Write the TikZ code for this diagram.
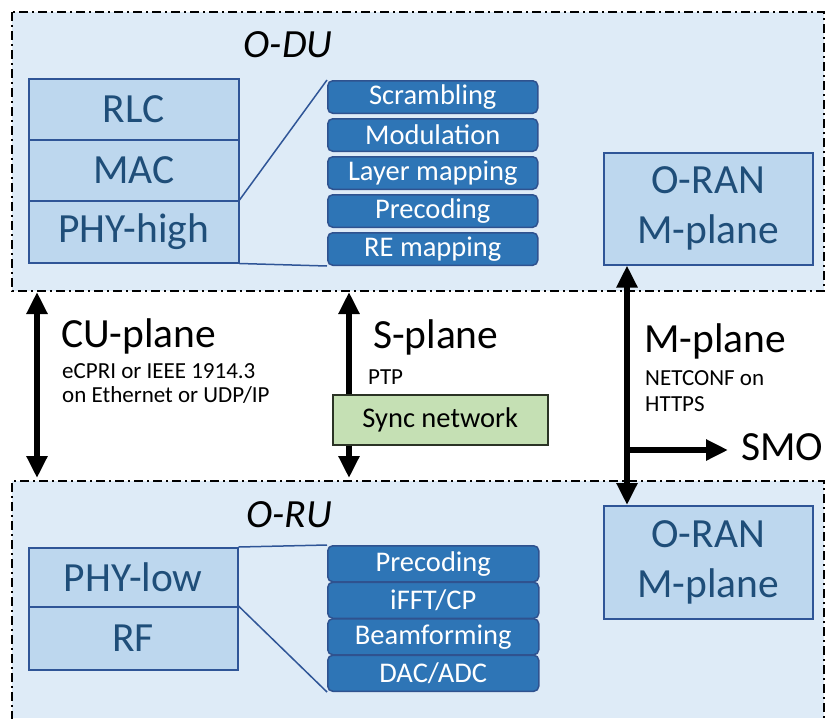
\documentclass[tikz,border=0pt]{standalone}
\usepackage{fontspec}
\setmainfont{Carlito}
\usetikzlibrary{arrows.meta}

\definecolor{groupfill}{HTML}{DEEBF7}
\definecolor{layerfill}{HTML}{BDD7EE}
\definecolor{layerline}{HTML}{2F5597}
\definecolor{layertext}{HTML}{1F4E79}
\definecolor{funcfill}{HTML}{2E75B6}
\definecolor{funcline}{HTML}{2F528F}
\definecolor{syncfill}{HTML}{C5E0B4}
\definecolor{syncline}{HTML}{2B3325}

\begin{document}
\begin{tikzpicture}[x=1pt,y=-1pt,
  >={Triangle[length=22pt,width=20pt]},
  groupborder/.style={draw=black, line width=1.8pt,
    dash pattern=on 9pt off 4pt on 2pt off 4pt},
  layer/.style={draw=layerline, fill=layerfill, line width=1.5pt,
    text=layertext, font=\fontsize{41.5}{50}\selectfont, inner sep=0pt,
    anchor=north west, minimum width=210pt, align=center},
  func/.style={draw=funcline, fill=funcfill, line width=1.5pt,
    rounded corners=5pt, text=white, font=\fontsize{28.5}{33}\selectfont,
    inner sep=0pt, anchor=north west, minimum width=210pt},
  zoomline/.style={draw=layerline, line width=1.5pt},
  grouplabel/.style={font=\itshape\fontsize{40}{48}\selectfont, anchor=base, inner sep=0pt},
  plane/.style={font=\fontsize{41.5}{50}\selectfont, anchor=base west, inner sep=0pt},
  planedetail/.style={anchor=north west, inner sep=0pt, align=left},
  bigarrow/.style={line width=5.5pt},
]
\useasboundingbox (0,0) rectangle (826,718);

% O-DU group
\path[fill=groupfill] (12,12) rectangle (824,291);
\draw[groupborder] (12,12) rectangle (824,291);
\node[grouplabel] (odu) at (288,57) {O-DU};

% O-RU group, open towards the bottom edge
\path[fill=groupfill] (12,481) rectangle (824,718);
\draw[groupborder] (12,720) -- (12,481) -- (824,481) -- (824,720);
\node[grouplabel] (oru) at (289,527) {O-RU};

% O-DU protocol stack
\node[layer, minimum height=61pt] (rlc) at (28,78) {RLC};
\node[layer, minimum height=61pt] (mac) at (28,139) {MAC};
\node[layer, minimum height=62pt] (phyhigh) at (28,200) {PHY-high};

% PHY-high functions
\node[func, minimum height=32.5pt] (scr) at (327,80) {Scrambling};
\node[func, minimum height=32.5pt] (mod) at (327,118) {Modulation};
\node[func, minimum height=32.5pt] (lay) at (327,156) {Layer mapping};
\node[func, minimum height=32.5pt] (prec) at (327,194) {Precoding};
\node[func, minimum height=32.5pt] (rem) at (327,232) {RE mapping};
\draw[zoomline] (phyhigh.north east) -- (scr.north west);
\draw[zoomline] (phyhigh.south east) -- (rem.south west);

% O-RU protocol stack
\node[layer, minimum height=59pt, minimum width=209pt] (phylow) at (28,547) {PHY-low};
\node[layer, minimum height=63pt, minimum width=209pt] (rf) at (28,606) {RF};

% PHY-low and RF functions
\node[func, minimum height=36pt, minimum width=211pt] (precru) at (327,545) {Precoding};
\node[func, minimum height=36pt, minimum width=211pt] (ifft) at (327,581.5) {iFFT/CP};
\node[func, minimum height=36pt, minimum width=211pt] (bf) at (327,618) {Beamforming};
\node[func, minimum height=36pt, minimum width=211pt] (dac) at (327,654.5) {DAC/ADC};
\draw[zoomline] (phylow.north east) -- (precru.north west);
\draw[zoomline] (rf.north east) -- (dac.south west);

% M-plane endpoints
\node[layer, minimum height=112pt, minimum width=209pt] (mdu) at (603,152) {O-RAN\\M-plane};
\node[layer, minimum height=113pt, minimum width=209pt] (mru) at (603,505) {O-RAN\\M-plane};

% Sync network
\node[draw=syncline, fill=syncfill, line width=1.5pt, inner sep=0pt,
  anchor=north west, minimum width=215pt, minimum height=50pt,
  font=\fontsize{28.5}{33}\selectfont] (sync) at (332,394) {Sync network};

% Plane labels
\node[plane] (cu) at (61,347) {CU-plane};
\node[planedetail, font=\fontsize{23}{24}\selectfont] (cudet) at (62,363)
  {eCPRI or IEEE 1914.3\\on Ethernet or UDP/IP};
\node[plane] (sp) at (373,348) {S-plane};
\node[planedetail, font=\fontsize{23}{26}\selectfont] (spdet) at (368,370) {PTP};
\node[plane] (mp) at (644,352) {M-plane};
\node[planedetail, font=\fontsize{23}{26.3}\selectfont] (mpdet) at (645,370)
  {NETCONF on\\HTTPS};
\node[plane, inner xsep=13pt] (smo) at (728,460) {SMO};

% Plane connectors
\coordinate (cutop) at (37,292);
\coordinate (cubot) at (37,478);
\draw[bigarrow, <->] (cutop) -- (cubot);

\coordinate (stop) at (349,292);
\coordinate (sbot) at (349,478);
\draw[bigarrow, ->] (sync.north -| stop) -- (stop);
\draw[bigarrow, ->] (sync.south -| sbot) -- (sbot);

\coordinate (mbranch) at (627,450);
\draw[bigarrow, <->] (mdu.south -| mbranch) -- (mru.north -| mbranch);
\draw[bigarrow, ->] (mbranch) -- (mbranch -| smo.west);
\end{tikzpicture}
\end{document}
